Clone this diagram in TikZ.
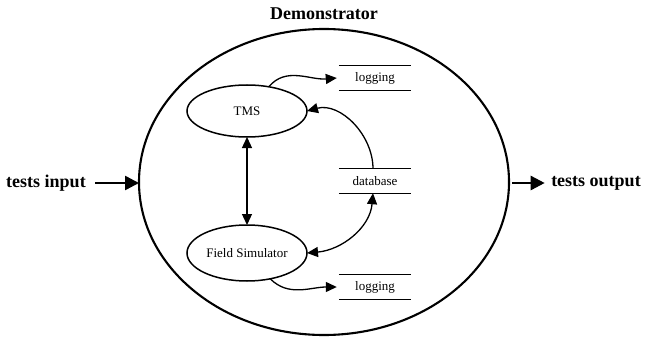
\documentclass[tikz,border=0pt]{standalone}
\usepackage{fontspec}
\setmainfont{Liberation Serif}
\usetikzlibrary{arrows.meta,shapes.geometric}

\tikzset{
  big/.style={font=\fontsize{18}{20}\selectfont\bfseries},
  small/.style={font=\fontsize{13}{15}\selectfont},
  proc/.style={draw, ellipse, line width=1.5pt, inner sep=0pt, outer sep=0pt, small},
  store/.style={rectangle, minimum width=72pt, minimum height=24pt, inner sep=0pt, small},
  flow/.style={line width=1.3pt, -{Triangle[length=11pt,width=10pt]}},
  flow2/.style={line width=1.3pt, {Triangle[length=11pt,width=10pt]}-{Triangle[length=11pt,width=10pt]}},
  io/.style={line width=2.5pt, -{Triangle[length=14pt,width=14pt]}}
}

\begin{document}
\begin{tikzpicture}[x=1pt,y=-1pt]
  \useasboundingbox (0,0) rectangle (651,337);

  % system boundary
  \node[draw, ellipse, line width=2.1pt, minimum width=370pt, minimum height=306pt,
        inner sep=0pt, outer sep=0pt] (demo) at (324,182) {};
  \node[big] (title) at (324,14) {Demonstrator};

  % external inputs and outputs
  \node[big] (tin) at (46,183) {tests input};
  \node[big] (tout) at (596,183) {tests output};
  \draw[io] (tin.east) ++(6,0) -- (tin.east -| demo.west);
  \draw[io] (demo.east |- tout) ++(3,0) -- ([xshift=-3pt]tout.west);

  % processes
  \node[proc, minimum width=120pt, minimum height=52pt] (tms) at (247,111) {TMS};
  \node[proc, minimum width=120pt, minimum height=56pt] (fs) at (247,253) {Field Simulator};

  % data stores
  \node[store] (log1) at (375,78) {logging};
  \node[store] (db) at (375,181) {database};
  \node[store] (log2) at (375,287) {logging};
  \foreach \s in {log1,db,log2}{
    \draw[line width=1.3pt] (\s.north west) -- (\s.north east);
    \draw[line width=1.3pt] (\s.south west) -- (\s.south east);
  }

  % data flows
  \draw[flow] (tms.48) to[out=50,in=185] ([xshift=-2pt]log1.west);
  \draw[flow] ([xshift=-2pt]db.north) to[out=90,in=15] (tms.east);
  \draw[flow2] (tms.south) -- (fs.north);
  \draw[flow2] (fs.east) to[out=5,in=-95] ([xshift=-2pt]db.south);
  \draw[flow] (fs.-48) to[out=-45,in=180] ([xshift=-2pt]log2.west);
\end{tikzpicture}
\end{document}
